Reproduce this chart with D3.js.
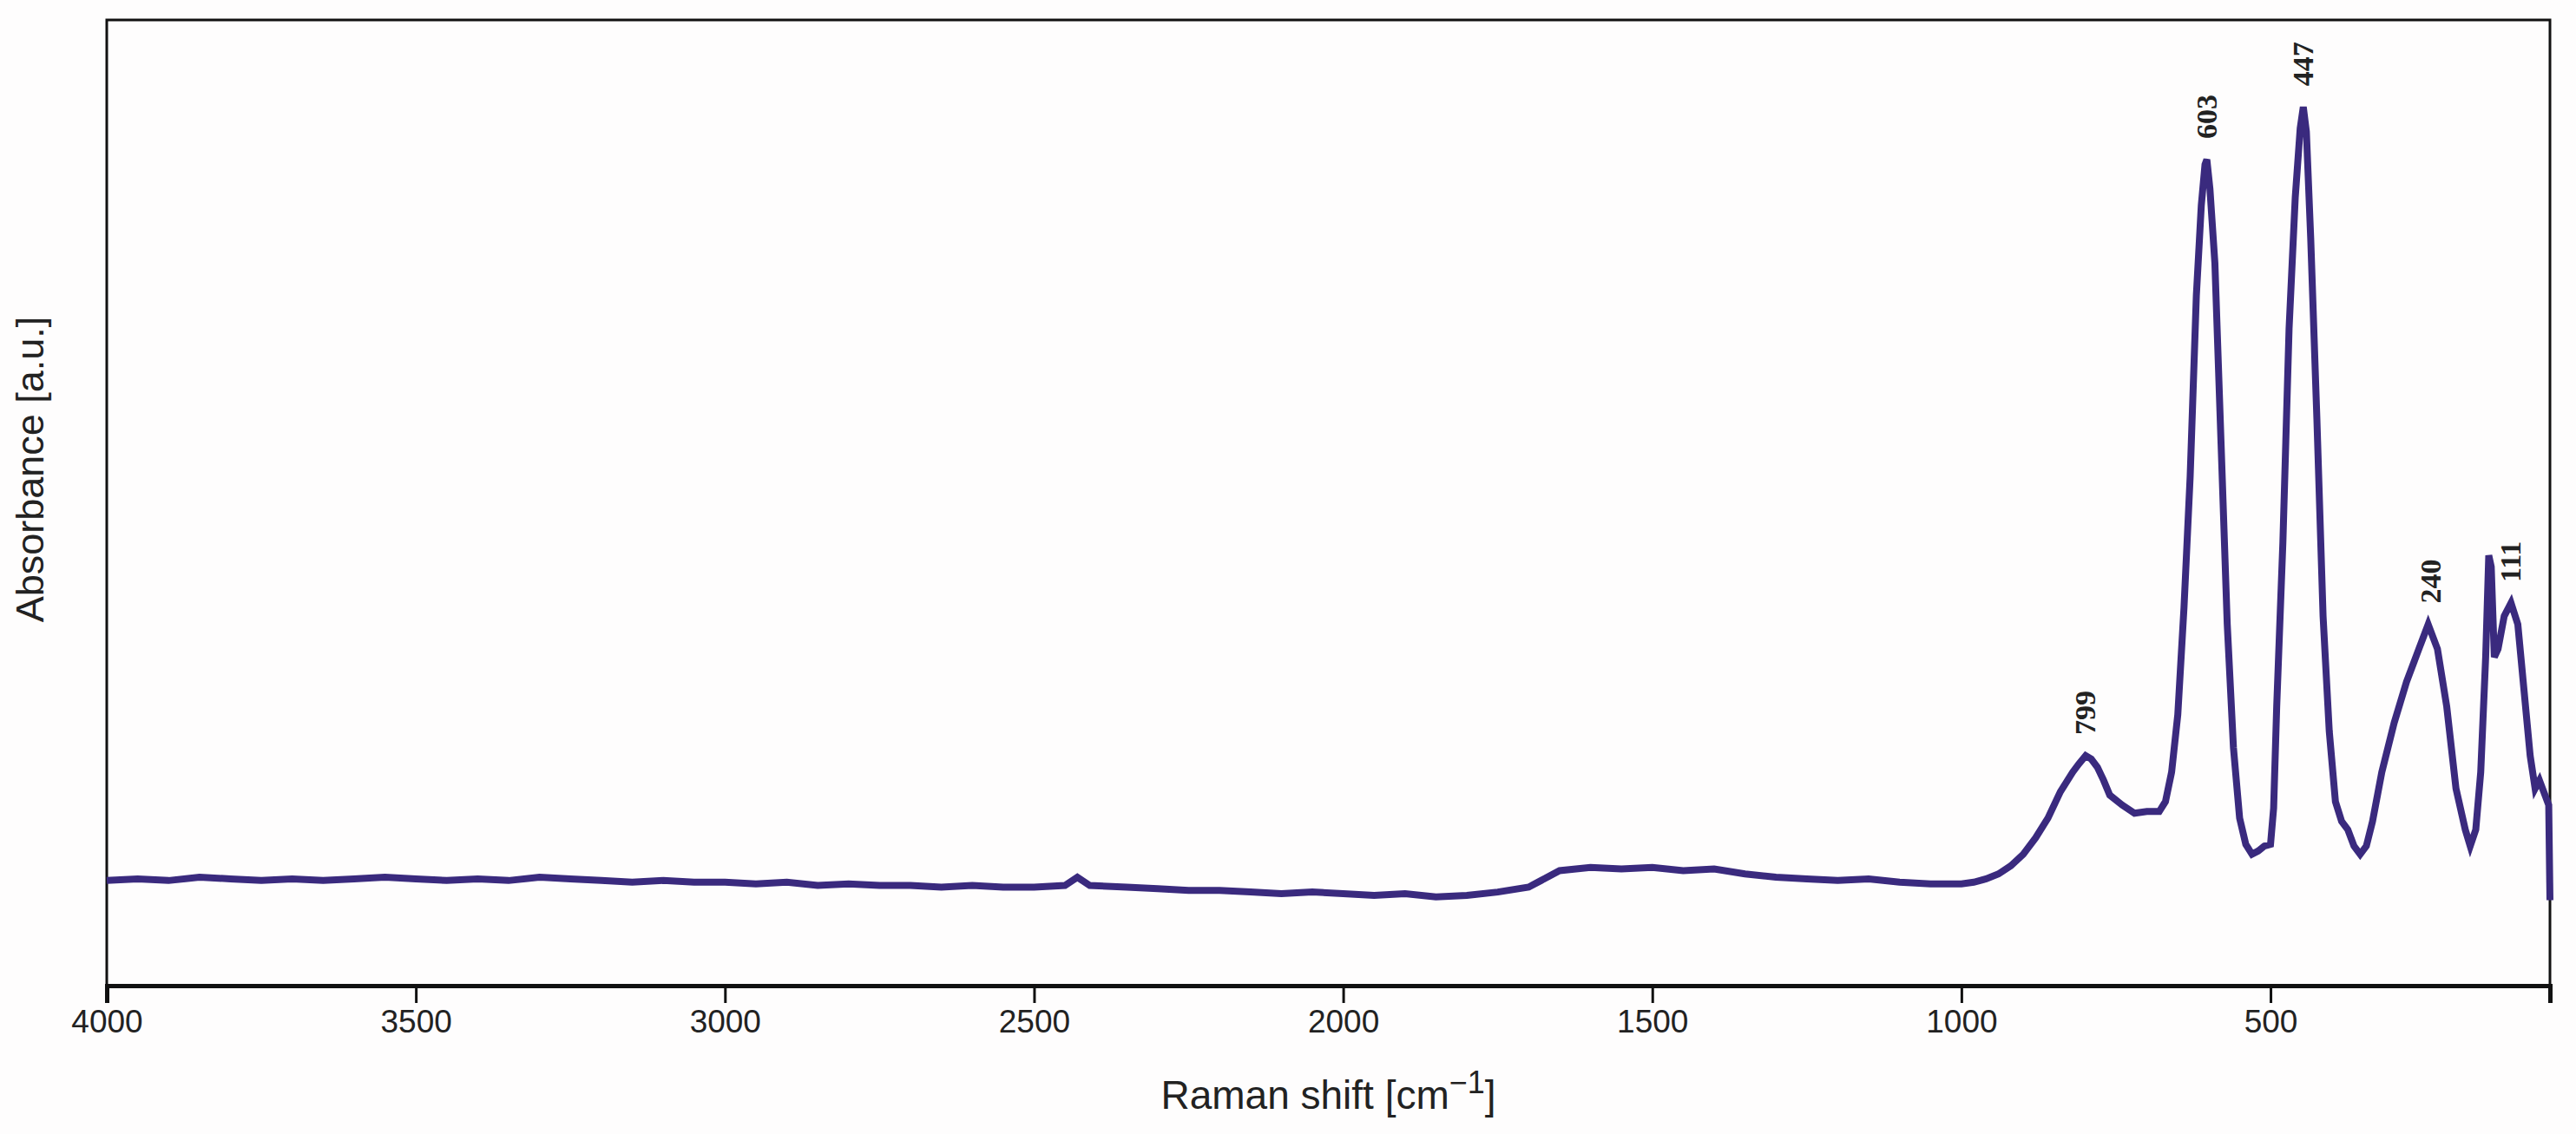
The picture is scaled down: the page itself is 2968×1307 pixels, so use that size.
<!DOCTYPE html>
<html>
<head>
<meta charset="utf-8">
<script src="https://cdn.jsdelivr.net/npm/d3@7"></script>
<style>
  body { margin: 0; background: #fefdfd; }
  svg { display: block; }
</style>
</head>
<body>
<svg id="chart" width="2968" height="1307"></svg>
<script>
// Raman spectrum (x: cm-1, y: arbitrary units)
const shifts = [4000, 3950, 3900, 3850, 3800, 3750, 3700, 3650, 3600, 3550, 3500, 3450, 3400, 3350, 3300, 3250, 3200, 3150, 3100, 3050, 3000, 2950, 2900, 2850, 2800, 2750, 2700, 2650, 2600, 2550, 2500, 2450, 2430, 2410, 2350, 2300, 2250, 2200, 2150, 2100, 2050, 2000, 1950, 1900, 1850, 1800, 1750, 1700, 1680, 1650, 1600, 1550, 1500, 1450, 1400, 1350, 1300, 1250, 1200, 1150, 1100, 1050, 1000, 980, 960, 940, 920, 900, 880, 860, 840, 820, 810, 799, 790, 780, 770, 760, 740, 720, 700, 680, 670, 660, 650, 640, 630, 620, 612, 606, 603, 598, 590, 580, 570, 560, 550, 540, 530, 520, 510, 500, 495, 490, 480, 470, 460, 452, 447, 442, 435, 425, 415, 405, 395, 385, 375, 365, 355, 345, 335, 320, 300, 280, 260, 245, 230, 215, 200, 185, 177, 168, 160, 152, 147, 143, 138, 132, 122, 111, 100, 90, 80, 72, 65, 55, 50, 48];
const absorb = [64, 65, 64, 66, 65, 64, 65, 64, 65, 66, 65, 64, 65, 64, 66, 65, 64, 63, 64, 63, 63, 62, 63, 61, 62, 61, 61, 60, 61, 60, 60, 61, 66, 61, 60, 59, 58, 58, 57, 56, 57, 56, 55, 56, 54, 55, 57, 60, 64, 70, 72, 71, 72, 70, 71, 68, 66, 65, 64, 65, 63, 62, 62, 63, 65, 68, 73, 80, 90, 102, 118, 130, 135, 140, 138, 133, 125, 116, 110, 105, 106, 106, 112, 130, 165, 230, 310, 420, 475, 500, 503, 485, 440, 330, 220, 145, 102, 86, 80, 82, 85, 86, 108, 170, 270, 400, 480, 522, 535, 520, 455, 345, 225, 155, 112, 100, 95, 85, 80, 85, 100, 130, 160, 185, 205, 220, 205, 170, 120, 95, 85, 95, 130, 200, 262, 255, 200, 205, 225, 233, 220, 180, 140, 120, 125, 115, 110, 52];
const xTicks = [4000, 3500, 3000, 2500, 2000, 1500, 1000, 500];
const peakLabels = [799, 603, 447, 240, 111];
const peakHeights = [140, 503, 535, 220, 233];

const svg = d3.select("#chart");
const mLeft = 123, mRight = 2938, mTop = 23, mBottom = 1136;

const x = d3.scaleLinear().domain([4000, 48]).range([mLeft, mRight]);
const y = d3.scaleLinear().domain([0, 588]).range([mBottom, mTop]);

svg.append("rect").attr("width", 2968).attr("height", 1307).attr("fill", "#fefdfd");

// frame
svg.append("rect")
  .attr("x", mLeft).attr("y", mTop)
  .attr("width", mRight - mLeft).attr("height", mBottom - mTop)
  .attr("fill", "none").attr("stroke", "#111").attr("stroke-width", 3);

let xAxis = svg.append("g")
  .attr("transform", `translate(0,${mBottom})`)
  .call(d3.axisBottom(x).tickValues(xTicks).tickSize(20).tickPadding(8).tickFormat(d3.format("d")));
xAxis.select(".domain").attr("stroke-width", 5).attr("stroke", "#111");
xAxis.selectAll(".tick line").attr("stroke-width", 3).attr("stroke", "#111");
xAxis.selectAll("text")
  .attr("font-family", "Liberation Sans, Arial, sans-serif")
  .attr("font-size", 37).attr("fill", "#222");

let line = d3.line().x((d, i) => x(shifts[i])).y(d => y(d));
svg.append("path")
  .datum(absorb)
  .attr("d", line)
  .attr("fill", "none")
  .attr("stroke", "#3a2a7e")
  .attr("stroke-width", 8)
  .attr("stroke-linejoin", "miter");

// peak labels
peakLabels.forEach((p, i) => {
  svg.append("text")
    .attr("transform", `translate(${x(p) + 11},${y(peakHeights[i]) - 24}) rotate(-90)`)
    .attr("font-family", "Liberation Serif, Times New Roman, serif")
    .attr("font-weight", "bold")
    .attr("font-size", 34)
    .attr("fill", "#222")
    .text(p);
});

svg.append("text")
  .attr("x", (mLeft + mRight) / 2).attr("y", 1278)
  .attr("text-anchor", "middle")
  .attr("font-family", "Liberation Sans, Arial, sans-serif")
  .attr("font-size", 46).attr("fill", "#222")
  .html("Raman shift [cm<tspan dy='-18' font-size='36'>−1</tspan><tspan dy='18'>]</tspan>");

svg.append("text")
  .attr("transform", `translate(50,541) rotate(-90)`)
  .attr("text-anchor", "middle")
  .attr("font-family", "Liberation Sans, Arial, sans-serif")
  .attr("font-size", 45).attr("fill", "#222")
  .text("Absorbance [a.u.]");
</script>
</body>
</html>
